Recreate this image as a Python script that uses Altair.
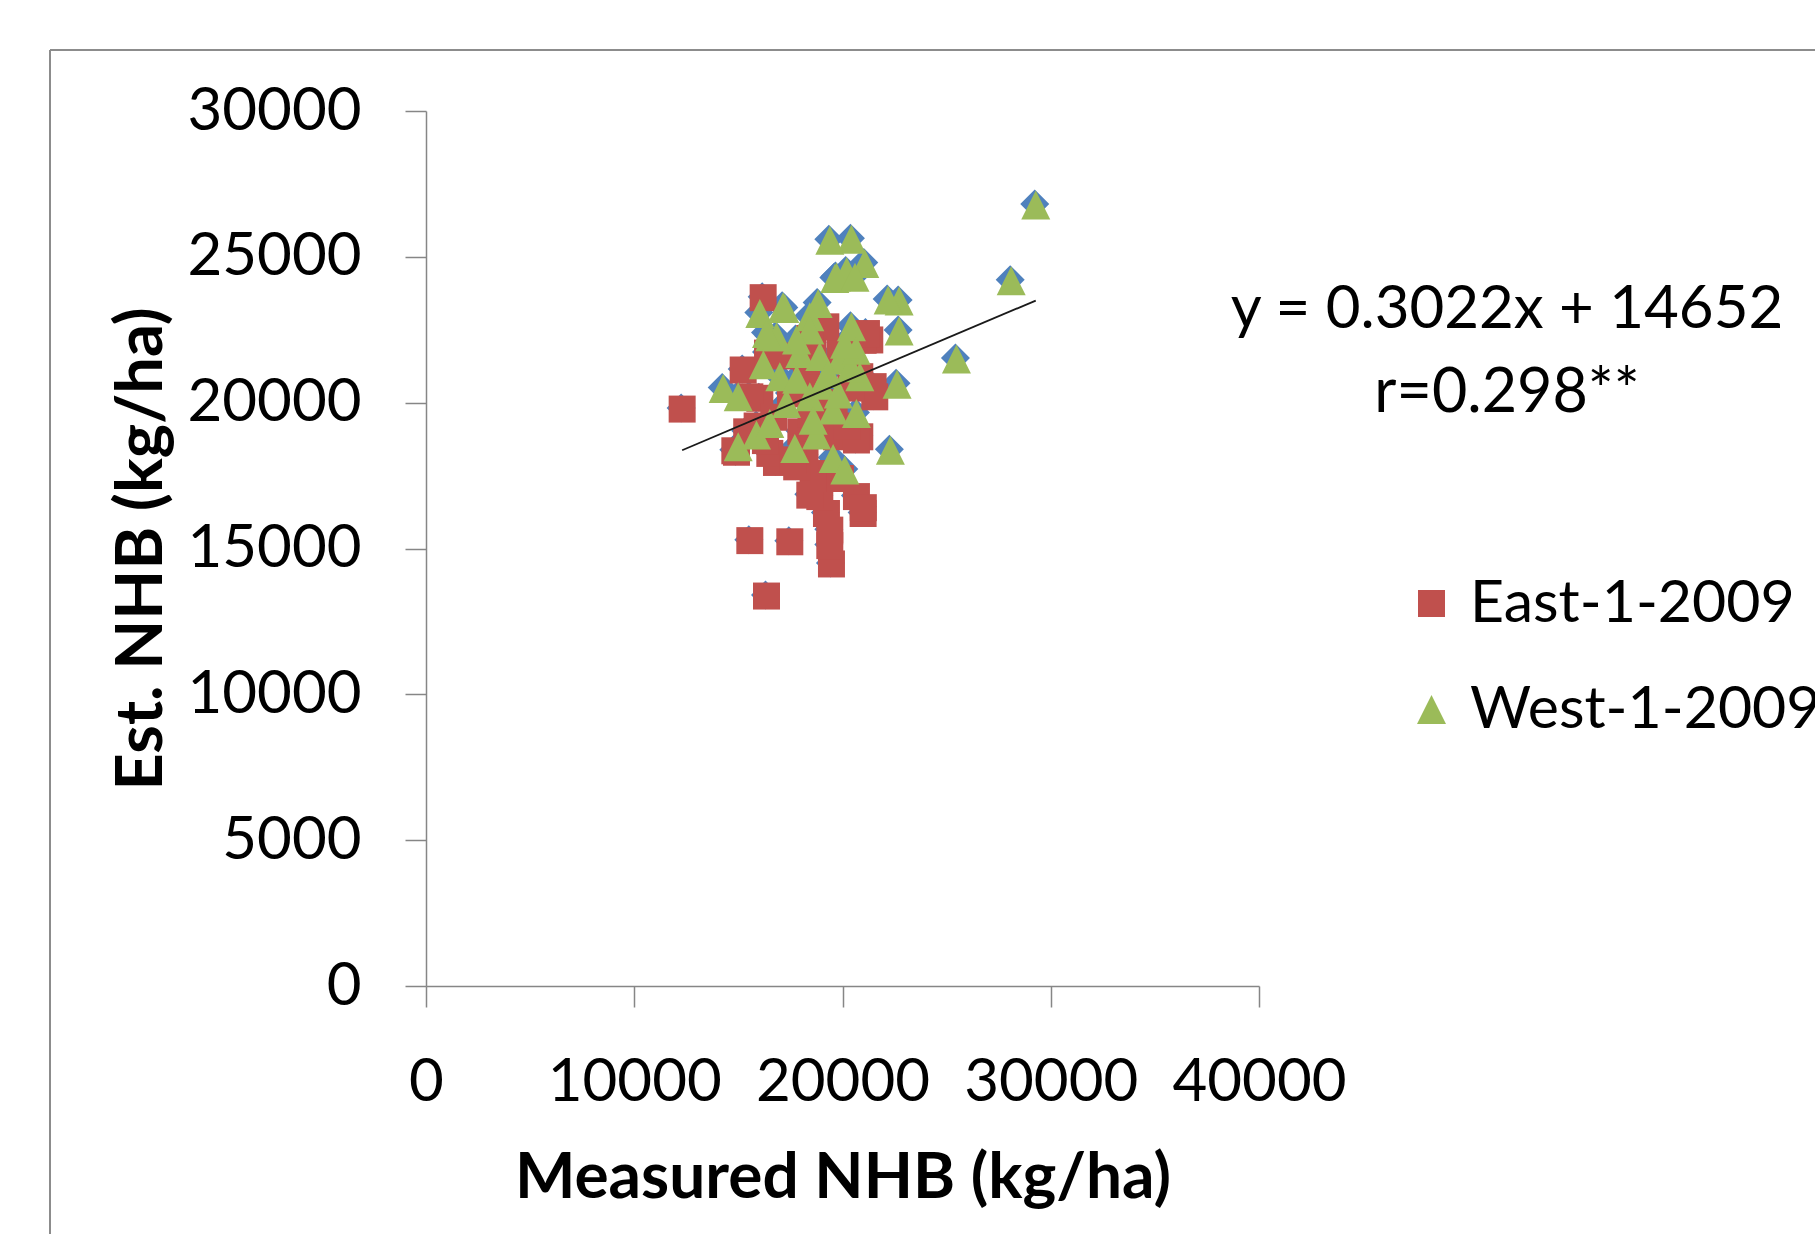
import altair as alt
import pandas as pd

# ---- data ----
east_x = [12300, 16190, 16350, 15550, 17470, 19470, 19390, 19390, 19230, 18910,
          18430, 20670, 20990, 21000, 19070, 18590, 16830, 17310, 14910, 16510,
          14830, 19710, 20830, 20670, 15230, 16030, 15550, 20830, 21470, 21550,
          21310, 20990, 18590, 18270, 15900, 16700, 17500, 18000, 18800, 19600,
          17100, 19900, 16300, 18200, 20200, 17800, 19900, 16400, 19200, 15400,
          20400, 18500, 21150, 18430, 17630]
east_y = [19780, 23600, 13370, 15270, 15230, 14470, 15100, 15630, 16200, 16780,
          16830, 16780, 16200, 16400, 17570, 17400, 17950, 18030, 18300, 18260,
          18350, 18830, 18830, 18720, 21120, 20150, 20200, 20890, 20550, 20200,
          22150, 22140, 22030, 21230, 19200, 19500, 20300, 19000, 20500, 20000,
          21600, 21800, 18700, 18200, 19200, 17800, 17400, 21700, 22600, 19000,
          20500, 19600, 22370, 22200, 18030]

west_x = [29280, 28100, 25470, 22620, 22300, 22720, 22720, 22190, 21070, 20430,
          19390, 19630, 20200, 18830, 17230, 16030, 18430, 20430, 16510, 18430,
          14270, 14990, 14990, 15870, 17710, 18750, 19550, 20110, 16990, 17950,
          18910, 19870, 20830, 17310, 18430, 19550, 20670, 18590, 16510, 17790,
          16830, 20400, 17800, 19000, 16200, 19710, 20600, 17150, 16350, 20650,
          19800, 19300, 20100]
west_y = [26780, 24180, 21500, 20630, 18370, 22460, 23490, 23520, 24770, 25600,
          25570, 24260, 24500, 23400, 23230, 23060, 22950, 22600, 22260, 22490,
          20490, 20200, 18490, 18890, 18430, 18890, 18090, 17690, 20890, 21690,
          21580, 21460, 20890, 19970, 20200, 19750, 19630, 19400, 19290, 22150,
          22260, 21200, 20800, 20600, 21300, 24310, 24300, 23290, 22370, 21800,
          20300, 21000, 22000]

series_names = ["East-1-2009", "West-1-2009"]
series_colors = ["#C0504D", "#9BBB59"]
all_points_color = "#4F81BD"

slope = 0.3022
intercept = 14652
equation_lines = ["y = 0.3022x + 14652", "r=0.298**"]

x_ticks = [0, 10000, 20000, 30000, 40000]
y_ticks = [0, 5000, 10000, 15000, 20000, 25000, 30000]

# ---- tables ----
pts = pd.DataFrame({
    "x": east_x + west_x,
    "y": east_y + west_y,
    "series": [series_names[0]] * len(east_x) + [series_names[1]] * len(west_x),
})
xmin, xmax = min(pts["x"]), max(pts["x"])
trend = pd.DataFrame({"x": [xmin, xmax],
                      "y": [slope * xmin + intercept, slope * xmax + intercept]})
one = pd.DataFrame({"a": [0]})

FONT = "Lato"
GRAY = "#868686"

xscale = alt.Scale(domain=[0, 40000], nice=False, zero=True)
yscale = alt.Scale(domain=[0, 30000], nice=False, zero=True)

xaxis = alt.Axis(values=x_ticks, title="Measured NHB (kg/ha)", grid=False,
                 labelFontSize=60, labelPadding=46, tickSize=21, format="d",
                 domainColor=GRAY, tickColor=GRAY, domainWidth=1.5, tickWidth=1.5,
                 labelColor="black", titleColor="black", titleFontSize=64,
                 titleFontWeight="bold", titleX=416.5, titleY=192,
                 titleBaseline="middle", titleAlign="center", labelFlush=False,
                 labelOverlap=False)
yaxis = alt.Axis(values=y_ticks, title="Est. NHB (kg/ha)", grid=False,
                 labelFontSize=60, labelPadding=44, tickSize=21, format="d",
                 domainColor=GRAY, tickColor=GRAY, domainWidth=1.5, tickWidth=1.5,
                 labelColor="black", titleColor="black", titleFontSize=65,
                 titleFontWeight="bold", titleX=-285, titleY=437.5,
                 titleBaseline="middle", titleAlign="center", titleAngle=270,
                 labelFlush=False, labelOverlap=False)

diamonds = alt.Chart(pts).mark_point(
    shape="diamond", filled=True, color=all_points_color, size=841, opacity=1,
    strokeWidth=0, xOffset=-1, yOffset=-1
).encode(x=alt.X("x:Q", scale=xscale, axis=xaxis),
         y=alt.Y("y:Q", scale=yscale, axis=yaxis))

leg = alt.Legend(title=None, orient="none", legendX=976, legendY=463,
                 labelFontSize=59, labelFont=FONT, symbolSize=650, labelLimit=0,
                 rowPadding=46, labelOffset=9, padding=0,
                 symbolStrokeWidth=0, labelColor="black")

markers = alt.Chart(pts).mark_point(filled=True, opacity=1, strokeWidth=0).encode(
    x=alt.X("x:Q", scale=xscale),
    y=alt.Y("y:Q", scale=yscale),
    color=alt.Color("series:N", scale=alt.Scale(domain=series_names, range=series_colors),
                    legend=leg),
    shape=alt.Shape("series:N", scale=alt.Scale(domain=series_names,
                                                range=["square", "M0,-1L1,1L-1,1Z"]),
                    legend=leg),
    size=alt.Size("series:N", scale=alt.Scale(domain=series_names, range=[729, 841]),
                  legend=None),
    order=alt.Order("series:N"),
)

line = alt.Chart(trend).mark_line(color="#1a1a1a", strokeWidth=1.8).encode(
    x=alt.X("x:Q", scale=xscale), y=alt.Y("y:Q", scale=yscale))

eq1 = alt.Chart(pd.DataFrame({"t": [equation_lines[0]]})).mark_text(
    fontSize=60, font=FONT, align="center", baseline="middle", color="black"
).encode(x=alt.value(1081), y=alt.value(199), text="t:N")
eq2 = alt.Chart(pd.DataFrame({"t": [equation_lines[1]]})).mark_text(
    fontSize=61, font=FONT, align="center", baseline="middle", color="black"
).encode(x=alt.value(1081), y=alt.value(283), text="t:N")

frame_left = alt.Chart(one).mark_rule(color="#8c8c8c", strokeWidth=2).encode(
    x=alt.value(-376), y=alt.value(-61), y2=alt.value(1130))
frame_top = alt.Chart(one).mark_rule(color="#8c8c8c", strokeWidth=2).encode(
    x=alt.value(-376), x2=alt.value(1400), y=alt.value(-61))

chart = alt.layer(frame_left, frame_top, diamonds, markers, line, eq1, eq2).properties(
    width=833, height=875,
    autosize=alt.AutoSizeParams(type="none"),
    padding={"left": 426, "top": 111, "right": 556, "bottom": 248},
    background="white",
).configure(font=FONT).configure_view(stroke=None)

chart.save("out.html", embed_options={"renderer": "svg", "actions": False})
